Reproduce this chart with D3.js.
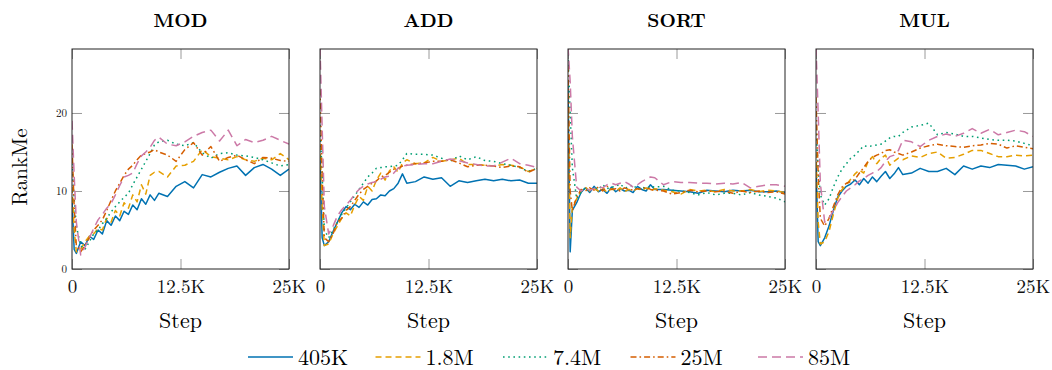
<!DOCTYPE html>
<html>
<head>
<meta charset="utf-8">
<script src="https://cdn.jsdelivr.net/npm/d3@7"></script>
<style>
  body { margin: 0; background: #fff; }
</style>
</head>
<body>
<div id="chart"></div>
<script>
/*#########
  Data
#########*/
const steps = [0, 250, 500, 1000, 1500, 2000, 2500, 3000, 3500, 4000, 4500, 5000, 5500, 6000, 6500,
    7000, 7500, 8000, 8500, 9000, 9500, 10000, 11000, 12000, 13000, 14000, 15000, 16000, 17000,
    18000, 19000, 20000, 21000, 22000, 23000, 24000, 25000];
const tasks = ["MOD", "ADD", "SORT", "MUL"];
const models = ["405K", "1.8M", "7.4M", "25M", "85M"];
const xTicks = [0, 12500, 25000];
const xTickLabels = ["0", "12.5K", "25K"];
const yTicks = [0, 10, 20];

// MOD
const mod405K = [9, 2.5, 2.0, 3.5, 3.0, 4.2, 3.8, 5.0, 4.5, 6.2, 5.6, 6.8, 6.2, 7.4, 7.0, 8.2, 7.6, 9.0, 8.3, 9.5, 8.8, 9.7,
    9.3, 10.6, 11.2, 10.4, 12.1, 11.8, 12.4, 12.9, 13.2, 12.0, 13.0, 13.4, 12.8, 12.0, 12.8];
const mod1_8M = [10.5, 5, 2.2, 2.5, 3.5, 4.2, 4.5, 5.2, 5.0, 6.5, 6.0, 7.5, 6.8, 8.5, 7.8, 9.5, 8.6, 10.8, 9.6, 12.0, 12.4, 12.5,
    11.8, 13.2, 13.3, 13.8, 15.3, 14.4, 14.2, 14.0, 14.4, 14.0, 13.8, 14.2, 14.0, 14.8, 14.0];
const mod7_4M = [13.5, 9, 5.5, 3.0, 2.5, 3.5, 4.5, 5.0, 5.8, 6.5, 7.3, 8.0, 8.6, 9.2, 9.7, 10.8, 11.8, 12.8, 13.8, 14.8, 15.9, 16.3,
    16.5, 16.0, 15.8, 16.2, 14.9, 14.2, 14.8, 14.9, 14.6, 14.5, 14.3, 14.0, 13.6, 13.2, 13.4];
const mod25M = [16, 8, 3, 2.2, 3.0, 4.0, 5.0, 5.6, 6.3, 7.5, 8.8, 10.0, 11.0, 12.0, 12.8, 13.3, 14.0, 14.6, 14.8, 15.0, 15.3, 15.0,
    14.6, 13.8, 15.3, 16.2, 14.6, 15.7, 13.8, 14.3, 14.6, 14.0, 13.5, 14.3, 14.2, 13.9, 13.8];
const mod85M = [19, 12, 6, 1.8, 2.8, 4.0, 5.2, 6.3, 7.0, 7.8, 8.4, 9.5, 10.7, 11.8, 12.0, 12.3, 13.5, 14.5, 15.0, 15.6, 16.5, 16.9,
    16.0, 15.8, 16.3, 17.0, 17.5, 17.8, 16.4, 17.8, 15.8, 16.6, 16.2, 16.5, 17.0, 16.5, 16.0];

// ADD
const add405K = [14, 4, 3.0, 3.5, 4.8, 6.0, 7.2, 8.0, 7.6, 8.3, 7.9, 8.6, 8.2, 8.9, 9.0, 9.5, 9.4, 10.0, 10.3, 11.0, 12.2, 11.0,
    11.2, 11.8, 11.5, 11.7, 10.6, 11.3, 11.1, 11.3, 11.5, 11.3, 11.5, 11.3, 11.4, 11.0, 11.0];
const add1_8M = [16, 8, 3.0, 3.2, 4.5, 5.5, 6.5, 7.2, 6.8, 8.2, 9.3, 8.8, 10.6, 10.0, 11.4, 12.3, 11.4, 12.6, 13.1, 12.4, 13.6, 14.0,
    13.5, 13.6, 14.3, 13.8, 14.0, 14.2, 13.4, 13.4, 13.3, 13.2, 13.4, 13.3, 13.1, 12.5, 12.9];
const add7_4M = [18.5, 12, 5, 4.0, 5.0, 6.0, 7.0, 7.8, 8.6, 9.4, 10.2, 11.0, 11.8, 12.3, 12.9, 13.0, 13.1, 13.1, 13.2, 13.3, 14.0, 14.8,
    14.7, 14.7, 14.6, 14.2, 13.8, 14.5, 14.0, 14.4, 13.9, 13.8, 13.5, 13.3, 13.0, 12.5, 12.9];
const add25M = [23, 12, 4, 3.5, 4.5, 6.0, 6.5, 7.5, 8.0, 8.8, 9.6, 10.2, 10.6, 11.0, 11.3, 11.8, 12.0, 12.4, 12.8, 12.9, 13.2, 13.3,
    13.5, 13.6, 13.8, 13.8, 14.0, 13.6, 13.1, 13.3, 13.3, 13.2, 13.0, 13.2, 13.1, 12.4, 12.9];
const add85M = [28.5, 18, 8, 4.5, 5.5, 6.8, 7.6, 8.2, 8.8, 9.6, 10.2, 10.6, 10.9, 11.1, 11.2, 11.5, 11.8, 11.9, 12.3, 12.9, 13.2, 13.3,
    13.4, 13.5, 13.5, 13.8, 14.1, 13.9, 13.6, 13.4, 13.2, 13.2, 13.7, 14.2, 13.5, 13.3, 13.0];

// SORT
const sort405K = [23.5, 2.2, 7.5, 8.5, 9.8, 10.4, 9.8, 10.6, 9.9, 10.2, 9.7, 10.5, 9.9, 10.3, 10.0, 10.1, 9.8, 10.6, 10.2, 10.0, 10.8, 10.2,
    10.2, 10.1, 10.0, 9.9, 9.7, 10.1, 10.0, 9.9, 10.1, 10.0, 10.1, 9.9, 9.9, 10.0, 9.8];
const sort1_8M = [20, 4, 8.0, 9.0, 10.0, 10.5, 10.0, 10.3, 10.0, 10.4, 9.8, 10.3, 10.0, 10.4, 9.9, 10.2, 10.0, 10.3, 10.1, 10.4, 10.0, 10.3,
    10.1, 9.9, 9.6, 10.2, 10.0, 10.1, 9.9, 10.2, 10.0, 10.0, 10.2, 9.9, 10.1, 10.0, 9.8];
const sort7_4M = [27.5, 20, 13, 9.0, 9.8, 10.4, 10.0, 10.5, 10.2, 10.8, 10.3, 10.5, 10.6, 10.9, 10.4, 10.5, 10.8, 10.2, 10.5, 10.3, 10.6, 10.5,
    10.6, 10.1, 10.0, 9.8, 9.5, 9.8, 9.5, 9.7, 9.7, 9.5, 9.8, 9.5, 9.3, 9.1, 8.6];
const sort25M = [26, 10, 7.5, 9.2, 10.2, 10.0, 10.4, 10.1, 10.5, 10.0, 10.6, 10.2, 10.3, 10.0, 10.4, 10.2, 10.1, 10.3, 10.2, 10.5, 10.2, 10.1,
    10.0, 9.6, 9.8, 10.1, 9.9, 10.0, 9.9, 10.0, 9.7, 10.0, 9.8, 10.0, 9.8, 9.9, 9.6];
const sort85M = [28.5, 24, 17, 10.5, 10.0, 10.4, 10.1, 10.3, 10.6, 10.4, 10.8, 11.0, 10.8, 11.0, 11.2, 10.9, 10.5, 10.8, 11.2, 11.5, 11.8, 11.7,
    10.8, 11.2, 11.1, 11.1, 11.0, 11.0, 10.9, 11.0, 10.9, 11.1, 10.4, 10.6, 10.8, 10.8, 10.6];

// MUL
const mul405K = [13.5, 3.5, 3.0, 4.0, 5.5, 7.5, 9.2, 10.0, 10.6, 10.9, 11.4, 10.8, 11.6, 11.0, 11.8, 11.2, 11.9, 12.5, 11.6, 12.2, 13.0, 12.1,
    12.3, 12.9, 12.5, 12.5, 12.9, 12.1, 13.2, 12.8, 13.2, 13.0, 13.4, 13.3, 13.2, 12.8, 13.1];
const mul1_8M = [15, 6, 3.2, 3.5, 4.8, 7.0, 9.0, 10.2, 10.8, 11.5, 12.2, 12.7, 12.3, 13.8, 14.4, 13.5, 14.2, 14.6, 13.3, 13.8, 14.2, 14.0,
    14.5, 14.3, 14.8, 15.0, 14.2, 14.3, 14.7, 15.2, 15.2, 14.8, 14.4, 14.4, 14.6, 14.5, 14.6];
const mul7_4M = [18, 13, 9.5, 8.2, 9.0, 10.5, 11.8, 12.8, 13.5, 14.2, 14.6, 15.2, 15.8, 15.7, 15.8, 15.9, 16.0, 16.4, 16.8, 17.0, 17.0, 17.5,
    18.2, 18.4, 18.7, 17.2, 17.5, 17.3, 17.0, 17.0, 16.8, 16.6, 16.5, 16.5, 16.4, 16.1, 15.8];
const mul25M = [22, 12, 6.5, 5.5, 6.5, 8.0, 9.5, 10.5, 11.0, 11.2, 11.5, 12.3, 13.0, 13.8, 14.3, 14.6, 14.8, 15.2, 15.3, 15.0, 14.8, 14.6,
    15.0, 15.5, 15.8, 16.0, 15.8, 15.7, 15.6, 15.8, 15.9, 16.1, 16.0, 15.5, 15.8, 15.6, 15.4];
const mul85M = [28.5, 20, 11, 6.0, 6.5, 7.5, 8.5, 9.3, 10.0, 10.4, 10.8, 11.3, 11.6, 12.0, 12.3, 12.5, 13.0, 13.8, 14.4, 14.6, 15.2, 16.5,
    16.3, 15.7, 16.5, 17.0, 17.3, 17.0, 17.4, 18.0, 17.4, 17.9, 17.2, 17.5, 17.8, 17.6, 17.0];

// lookup table built from the arrays above
const seriesByTask = {
    MOD: [mod405K, mod1_8M, mod7_4M, mod25M, mod85M],
    ADD: [add405K, add1_8M, add7_4M, add25M, add85M],
    SORT: [sort405K, sort1_8M, sort7_4M, sort25M, sort85M],
    MUL: [mul405K, mul1_8M, mul7_4M, mul25M, mul85M]
};

/*#########
  Styles
#########*/
const colors = ["#0072B2", "#E69F00", "#009E73", "#D55E00", "#CC79A7"];
const dashes = [null, "6,4", "1.6,3.6", "6,3,1.6,3", "9,5"];
const serif = "'Latin Modern Roman', 'Liberation Serif', serif";

/*#########
  Layout
#########*/
const W = 1052, H = 370;
const panelW = 217, panelH = 220;
const firstLeft = 72, panelGap = 248, plotTop = 49;

const svg = d3.select("#chart")
    .append("svg")
    .attr("width", W)
    .attr("height", H);

const x = d3.scaleLinear().domain([0, 25000]).range([0, panelW]);
const y = d3.scaleLinear().domain([0, 28.2]).range([panelH, 0]);

const line = d3.line()
    .x(d => x(d[0]))
    .y(d => y(d[1]));

svg.append("defs").append("clipPath")
    .attr("id", "plotClip")
    .append("rect")
    .attr("width", panelW)
    .attr("height", panelH);

//Style tick marks
function styleAxis(g) {
    g.select(".domain").remove();
    g.selectAll(".tick line").attr("stroke", "#9a9a9a").attr("stroke-width", 1);
    g.selectAll("text")
        .style("font-family", serif)
        .attr("fill", "#111");
}

tasks.forEach((task, i) => {
    const g = svg.append("g")
        .attr("transform", "translate(" + (firstLeft + i * panelGap) + "," + plotTop + ")");

    //Bottom axis with labels
    g.append("g")
        .attr("transform", "translate(0," + panelH + ")")
        .call(d3.axisBottom(x).tickValues(xTicks)
            .tickFormat((d, k) => xTickLabels[k])
            .tickSize(-10).tickPadding(11))
        .call(styleAxis)
        .selectAll("text")
        .style("font-size", "19px");

    //Top axis
    g.append("g")
        .call(d3.axisTop(x).tickValues(xTicks).tickFormat("").tickSize(-10))
        .call(styleAxis);

    //Left axis (labels only on first panel)
    g.append("g")
        .call(d3.axisLeft(y).tickValues(yTicks)
            .tickFormat(i === 0 ? d3.format("d") : "")
            .tickSize(-10).tickPadding(5))
        .call(styleAxis)
        .selectAll("text")
        .style("font-size", "11px");

    //Right axis
    g.append("g")
        .attr("transform", "translate(" + panelW + ",0)")
        .call(d3.axisRight(y).tickValues(yTicks).tickFormat("").tickSize(-10))
        .call(styleAxis);

    //Lines
    const plot = g.append("g").attr("clip-path", "url(#plotClip)");
    seriesByTask[task].forEach((vals, k) => {
        plot.append("path")
            .datum(steps.map((s, j) => [s, vals[j]]))
            .attr("d", line)
            .attr("fill", "none")
            .attr("stroke", colors[k])
            .attr("stroke-width", 1.5)
            .attr("stroke-linejoin", "round")
            .attr("stroke-dasharray", dashes[k]);
    });

    //Frame
    g.append("rect")
        .attr("width", panelW)
        .attr("height", panelH)
        .attr("fill", "none")
        .attr("stroke", "#222")
        .attr("stroke-width", 1);

    //Title
    g.append("text")
        .attr("x", panelW / 2)
        .attr("y", -22)
        .attr("text-anchor", "middle")
        .style("font-family", serif)
        .style("font-size", "19px")
        .style("font-weight", "bold")
        .text(task);

    //X label
    g.append("text")
        .attr("x", panelW / 2)
        .attr("y", panelH + 59)
        .attr("text-anchor", "middle")
        .style("font-family", serif)
        .style("font-size", "22px")
        .text("Step");
});

//Y label
svg.append("text")
    .attr("transform", "translate(27,167) rotate(-90)")
    .attr("text-anchor", "middle")
    .style("font-family", serif)
    .style("font-size", "21px")
    .text("RankMe");

/*#########
  Legend
#########*/
const legend = svg.append("g").attr("transform", "translate(248,357)");
models.forEach((m, k) => {
    const item = legend.append("g").attr("transform", "translate(" + (k * 127.5) + ",0)");
    item.append("line")
        .attr("x1", 0).attr("x2", 45)
        .attr("stroke", colors[k])
        .attr("stroke-width", 1.5)
        .attr("stroke-dasharray", dashes[k]);
    item.append("text")
        .attr("x", 50)
        .attr("y", 8)
        .style("font-family", serif)
        .style("font-size", "22px")
        .text(m);
});
</script>
</body>
</html>
